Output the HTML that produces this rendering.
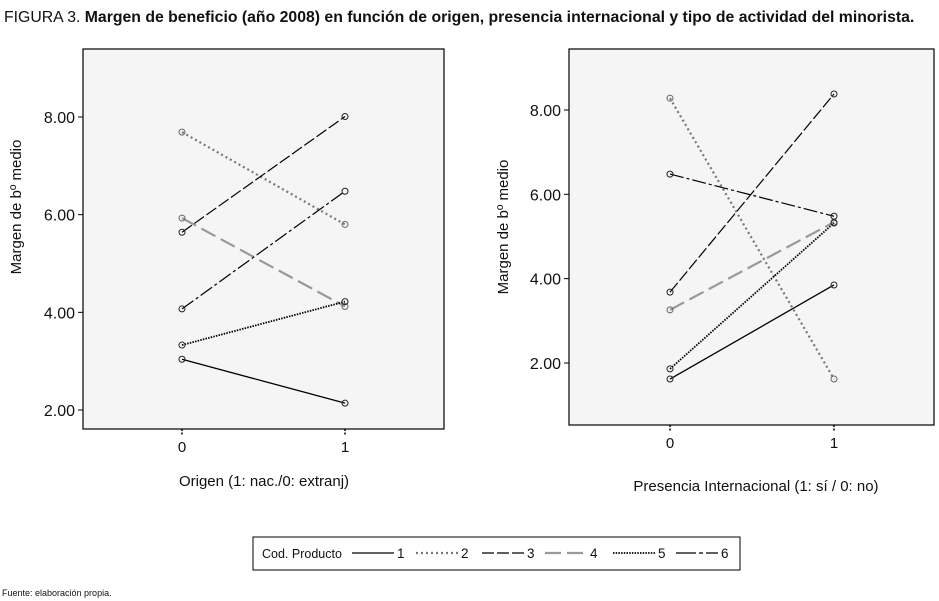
<!DOCTYPE html>
<html><head><meta charset="utf-8"><style>
body{margin:0;background:#fff;width:939px;height:601px;overflow:hidden;font-family:"Liberation Sans",sans-serif;}
svg{display:block}
</style></head><body>
<svg id="s" width="939" height="601" xmlns="http://www.w3.org/2000/svg">
<text x="4" y="22" font-size="15.8" fill="#111">FIGURA 3. <tspan font-weight="bold">Margen de beneficio (año 2008) en función de origen, presencia internacional y tipo de actividad del minorista.</tspan></text>
<g id="legend">
<rect x="253" y="537" width="487" height="33" fill="#fff" stroke="#000" stroke-width="1"/>
<text x="262" y="558" font-size="12.5" fill="#111">Cod. Producto</text>
</g>
<text x="2" y="596" font-size="9" fill="#111">Fuente: elaboración propia.</text>
</svg>
<script>
const categories = [0, 1];
const seriesNames = ["1","2","3","4","5","6"];
const leftValues = [[3.04,2.14],[7.69,5.80],[5.64,8.01],[5.93,4.12],[3.33,4.22],[4.07,6.48]];
const rightValues = [[1.62,3.85],[8.28,1.62],[3.68,8.38],[3.26,5.34],[1.86,5.32],[6.48,5.48]];
const yTicks = [2, 4, 6, 8];
const yTickLabels = ["2.00","4.00","6.00","8.00"];
const styles = [
 {c:"#000",w:1.3,d:""},
 {c:"#777",w:2.2,d:"2 3"},
 {c:"#000",w:1.2,d:"12 3"},
 {c:"#999",w:2.2,d:"16 6"},
 {c:"#000",w:1.8,d:"1.5 1.2"},
 {c:"#000",w:1.2,d:"14 3 3 3"}
];
const NS="http://www.w3.org/2000/svg";
const svg=document.getElementById('s');
function el(t,a,p){const e=document.createElementNS(NS,t);for(const k in a)e.setAttribute(k,a[k]);(p||svg).appendChild(e);return e;}
function panel(cfg,vals,pname){
 const g=el('g',{});
 
 
 const yS=v=>cfg.y2-(v-2)*(cfg.y2-cfg.y8)/6;
 const xS=c=>cfg.x0+c*(cfg.x1-cfg.x0);
 const r=el('rect',{x:cfg.bx,y:cfg.by,width:cfg.bw,height:cfg.bh,fill:'#f5f5f5',stroke:'#000','stroke-width':1.2},g);
 
 
 yTicks.forEach((t,i)=>{
  const y=yS(t);
  el('line',{x1:cfg.bx-5,x2:cfg.bx,y1:y,y2:y,stroke:'#000'},g);
  const tx=el('text',{x:cfg.bx-8,y:y+6,'text-anchor':'end','font-size':16,fill:'#111'},g);
  tx.textContent=yTickLabels[i];
  
  
 });
 categories.forEach(c=>{
  const x=xS(c);
  el('line',{x1:x,x2:x,y1:cfg.by+cfg.bh,y2:cfg.by+cfg.bh+6,stroke:'#000','stroke-width':1.5,'stroke-dasharray':'2 1.5'},g);
  const tx=el('text',{x:x,y:cfg.by+cfg.bh+23,'text-anchor':'middle','font-size':15,fill:'#111'},g);
  tx.textContent=String(c);
  
  
 });
 vals.forEach((v,i)=>{
  const s=styles[i];
  const ln=el('line',{x1:xS(categories[0]),y1:yS(v[0]),x2:xS(categories[1]),y2:yS(v[1]),stroke:s.c,'stroke-width':s.w,'stroke-dasharray':s.d},g);
  
  
  v.forEach((val,j)=>{
   const p=el('circle',{cx:xS(categories[j]),cy:yS(val),r:3,fill:'none',stroke:s.c==='#000'?'#222':'#666','stroke-width':1},g);
   
   
  });
 });
 const yl=el('text',{x:0,y:0,transform:`translate(${cfg.ylx},${cfg.yly}) rotate(-90)`,'text-anchor':'middle','font-size':15,fill:'#111'},g);
 yl.textContent='Margen de bº medio';
 
 
 const xl=el('text',{x:cfg.xlx,y:cfg.xly,'text-anchor':'middle','font-size':15,fill:'#111'},g);
 xl.textContent=cfg.xtitle;
 
 
}
panel({bx:83,by:49,bw:361,bh:380,x0:182,x1:345,y2:410,y8:117,ylx:21,yly:207,xlx:264,xly:486,xtitle:'Origen (1: nac./0: extranj)'},leftValues,'left-chart');
panel({bx:569,by:49,bw:365,bh:376,x0:670,x1:834,y2:363,y8:110,ylx:508,yly:227,xlx:756,xly:491,xtitle:'Presencia Internacional (1: sí / 0: no)'},rightValues,'right-chart');
const lg=document.getElementById('legend');
const lx=[352,416,482,545,613,676];
seriesNames.forEach((n,i)=>{
 const s=styles[i];
 const l=el('line',{x1:lx[i],x2:lx[i]+42,y1:553,y2:553,stroke:s.c,'stroke-width':s.w,'stroke-dasharray':i===5?'20 3 4 3':s.d},lg);
 
 
 const t=el('text',{x:lx[i]+45,y:558,'font-size':13.5,fill:'#111'},lg);
 t.textContent=n;
 
 
});
</script>
</body></html>
